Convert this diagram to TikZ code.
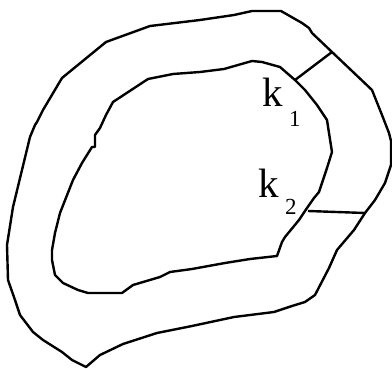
\documentclass[tikz,border=0pt]{standalone}
\usepackage{fontspec}
\setmainfont{Liberation Serif}
\begin{document}
\begin{tikzpicture}[x=1pt,y=-1pt,
  contour/.style={draw=black,line width=2.4pt,line join=round},
  cut/.style={draw=black,line width=2.4pt},
  klabel/.style={inner sep=0pt,anchor=base west,font=\fontsize{41}{41}\selectfont},
  ksub/.style={inner sep=0pt,anchor=base west,font=\fontsize{23}{23}\selectfont}]
\useasboundingbox (0,0) rectangle (392,369);
% outer contour
\draw[contour] (86,367) -- (72,360) -- (62,352) -- (43,340) -- (33,332) -- (20,315) -- (15,300) -- (8,280) -- (7,245) -- (13,207) -- (30,137) -- (35,125) -- (37,122) -- (43,110) -- (62,78) -- (106,42) -- (150,26) -- (200,20) -- (234,15) -- (252,11) -- (281,11) -- (302,23) -- (309,28) -- (312,33) -- (332,52) -- (372,90) -- (382,115) -- (389,133) -- (391,141) -- (391,165) -- (385,183) -- (375,200) -- (365,213) -- (354,230) -- (337,250) -- (329,268) -- (315,295) -- (305,302) -- (292,306) -- (274,312) -- (234,317) -- (192,326) -- (157,333) -- (123,344) -- (100,355) -- cycle;
% inner contour
\draw[contour] (122,293) -- (88,293) -- (78,290) -- (63,283) -- (55,275) -- (52,260) -- (52,250) -- (55,233) -- (60,213) -- (73,180) -- (82,163) -- (92,147) -- (95,147) -- (95,135) -- (100,128) -- (106,115) -- (113,102) -- (148,79) -- (173,74) -- (200,72) -- (224,69) -- (252,61) -- (262,62) -- (280,67) -- (295,80) -- (305,90) -- (317,105) -- (327,120) -- (329,133) -- (332,152) -- (327,168) -- (319,192) -- (314,198) -- (307,208) -- (299,220) -- (285,237) -- (282,242) -- (277,256) -- (250,259) -- (225,263) -- (192,269) -- (170,272) -- (160,277) -- (133,285) -- cycle;
% cuts
\coordinate (k1in) at (295,80);
\coordinate (k1out) at (332,52);
\coordinate (k2in) at (308,211);
\coordinate (k2out) at (365,213);
\draw[cut] (k1in) -- (k1out);
\draw[cut] (k2in) -- (k2out);
% labels
\node[klabel] (k1) at (262,107) {k};
\node[ksub] (k1s) at (289,127) {1};
\node[klabel] (k2) at (258,198) {k};
\node[ksub] (k2s) at (285,215) {2};
\end{tikzpicture}
\end{document}
